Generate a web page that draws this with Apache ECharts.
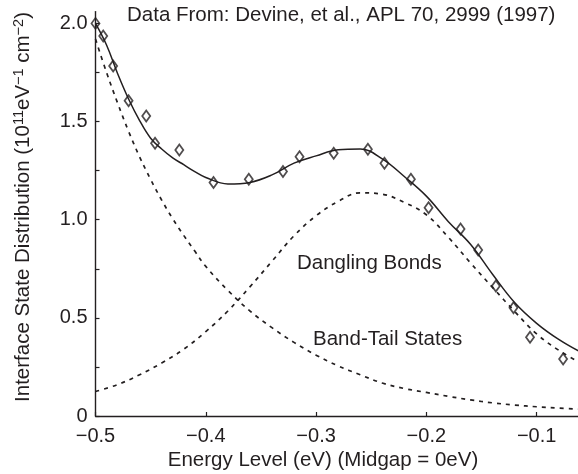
<!DOCTYPE html>
<html>
<head>
<meta charset="utf-8">
<script src="https://cdn.jsdelivr.net/npm/echarts@6/dist/echarts.min.js"></script>
<style>
html,body{margin:0;padding:0;background:#fff;}
#chart{width:578px;height:474px;}
</style>
</head>
<body>
<div id="chart"></div>
<script>
// Measured data points (diamonds)
var dataEnergy = [-0.500,-0.493,-0.484,-0.470,-0.454,-0.446,-0.424,-0.393,-0.361,-0.330,-0.315,-0.284,-0.253,-0.238,-0.214,-0.198,-0.169,-0.153,-0.137,-0.121,-0.106,-0.076];
var dataDensity = [2.00,1.936,1.783,1.606,1.528,1.389,1.355,1.190,1.206,1.245,1.321,1.338,1.359,1.287,1.206,1.061,0.953,0.846,0.662,0.552,0.401,0.290];

// Curves
var curveEnergy = [-0.50,-0.49,-0.48,-0.47,-0.46,-0.45,-0.44,-0.43,-0.42,-0.41,-0.40,-0.38,-0.36,-0.34,-0.32,-0.30,-0.28,-0.26,-0.24,-0.22,-0.20,-0.18,-0.16,-0.14,-0.12,-0.10,-0.08,-0.06];
var totalFit    = [2.00,1.89,1.745,1.615,1.505,1.415,1.36,1.315,1.28,1.245,1.215,1.182,1.19,1.228,1.288,1.325,1.356,1.36,1.31,1.22,1.12,0.99,0.875,0.722,0.578,0.472,0.39,0.325];
var bandTail    = [1.92,1.75,1.595,1.45,1.32,1.205,1.10,1.005,0.92,0.84,0.762,0.64,0.535,0.45,0.375,0.31,0.255,0.21,0.168,0.14,0.12,0.10,0.082,0.067,0.056,0.047,0.04,0.035];

var dbEnergy = [-0.50,-0.48,-0.46,-0.44,-0.42,-0.40,-0.38,-0.36,-0.34,-0.32,-0.30,-0.28,-0.26,-0.24,-0.22,-0.20,-0.18,-0.16,-0.14,-0.12,-0.10,-0.08,-0.06];
var danglingBonds = [0.125,0.16,0.21,0.27,0.34,0.43,0.535,0.658,0.788,0.918,1.02,1.093,1.137,1.13,1.088,1.025,0.91,0.78,0.655,0.533,0.418,0.335,0.27];

// Ticks and labels
var xTicks = [-0.5,-0.4,-0.3,-0.2,-0.1];
var yTicks = [0,0.25,0.5,0.75,1.0,1.25,1.5,1.75,2.0];
var yLabels = [0,0.5,1.0,1.5,2.0];

var titleText = 'Data From: Devine, et al., APL 70, 2999 (1997)';
var xTitle = 'Energy Level (eV) (Midgap = 0eV)';
var dbLabel = 'Dangling Bonds';
var btLabel = 'Band-Tail States';

function zip(a, b){ return a.map(function(v,i){ return [v, b[i]]; }); }

var FONT = '"Liberation Sans", Arial, Helvetica, sans-serif';
var INK = '#231f20';

var chart = echarts.init(document.getElementById('chart'), null, {renderer:'canvas'});
chart.setOption({
  animation: false,
  backgroundColor: '#fff',
  grid: {left: 95.5, right: 0, top: 11.6, bottom: 58, containLabel: false},
  xAxis: {
    type: 'value', min: -0.5, max: -0.0625, interval: 0.1,
    axisLine: {show: true, onZero: false, lineStyle: {color: INK, width: 1.4}},
    axisTick: {show: true, inside: true, length: 4, customValues: xTicks, lineStyle: {color: INK, width: 1.2}},
    axisLabel: {show: true, margin: 10, customValues: xTicks, fontFamily: FONT, fontSize: 20, color: INK,
      formatter: function(v){ return '\u2212' + Math.abs(v).toFixed(1); }},
    splitLine: {show: false}
  },
  yAxis: {
    type: 'value', min: 0, max: 2.06, interval: 0.25,
    axisLine: {show: true, lineStyle: {color: INK, width: 1.4}},
    axisTick: {show: true, inside: true, length: 4, customValues: yTicks, lineStyle: {color: INK, width: 1.2}},
    axisLabel: {show: true, margin: 8, customValues: yLabels, fontFamily: FONT, fontSize: 20, color: INK,
      formatter: function(v){ return v === 0 ? '0' : v.toFixed(1); }},
    splitLine: {show: false}
  },
  series: [
    {type: 'line', data: zip(curveEnergy, bandTail), smooth: 0.4, showSymbol: false,
     lineStyle: {color: INK, width: 1.7, type: [4, 5]}},
    {type: 'line', data: zip(dbEnergy, danglingBonds), smooth: 0.4, showSymbol: false,
     lineStyle: {color: INK, width: 1.7, type: [4, 5]}},
    {type: 'line', data: zip(curveEnergy, totalFit), smooth: 0.4, showSymbol: false,
     lineStyle: {color: INK, width: 1.5}},
    {type: 'scatter', data: zip(dataEnergy, dataDensity), symbol: 'diamond', symbolSize: [8, 11],
     itemStyle: {color: 'rgba(255,255,255,0)', borderColor: INK, borderWidth: 1.8}, z: 5}
  ],
  graphic: [
    {type: 'text', left: 127, top: 5, style: {text: titleText, font: '20.5px ' + FONT, fill: INK}},
    {type: 'text', left: 297, top: 253, style: {text: dbLabel, font: '20.5px ' + FONT, fill: INK}},
    {type: 'text', left: 313, top: 328.5, style: {text: btLabel, font: '20.5px ' + FONT, fill: INK}},
    {type: 'text', x: 323, y: 460, style: {text: xTitle, font: '20.5px ' + FONT, fill: INK, align: 'center', verticalAlign: 'middle'}},
    {type: 'text', x: 23.5, y: 207, rotation: Math.PI / 2,
     style: {text: 'Interface State Distribution (10{s|11}eV{s|\u22121} cm{s|\u22122})',
       font: '20.5px ' + FONT, fill: INK, align: 'center', verticalAlign: 'middle',
       rich: {s: {fontSize: 14.5, fontFamily: FONT, fill: INK, verticalAlign: 'top', lineHeight: 24, padding: [0,0,8,0]}}}}
  ]
});
</script>
</body>
</html>
